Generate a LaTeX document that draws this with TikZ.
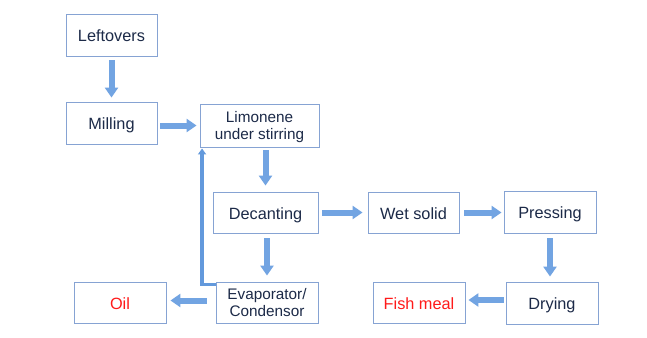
\documentclass[tikz,border=0pt]{standalone}
\usepackage{fontspec}
\setmainfont{Liberation Sans}
\usetikzlibrary{arrows.meta,calc}
\definecolor{boxline}{HTML}{86A3D3}
\definecolor{txt}{HTML}{1C2A48}
\definecolor{arr}{HTML}{72A4E2}
\definecolor{arrdark}{HTML}{6399DC}
\definecolor{redtxt}{HTML}{FF1A1A}
\tikzset{
  stepbox/.style={draw=boxline, line width=0.9pt, fill=white, inner sep=0pt, align=center,
    text=txt, font=\fontsize{16.3}{18}\selectfont, text height=13.7pt, text depth=0pt},
  twoline/.style={font=\fontsize{15.3}{17}\selectfont, text height=, text depth=0pt},
  blockarrow/.style={draw=arr, line width=6pt, -{Triangle[width=13pt,length=10pt]}},
  thinarrow/.style={draw=arrdark, line width=3.5pt, -{Triangle[width=8pt,length=6pt]}},
}
\begin{document}
\begin{tikzpicture}[x=1pt,y=-1pt]
\fill[white] (0,0) rectangle (647,337);
\useasboundingbox (0,0) rectangle (647,337);
% nodes
\node[stepbox, minimum width=91pt, minimum height=42pt] (left) at (111.5,35) {Leftovers};
\node[stepbox, minimum width=91pt, minimum height=42pt] (mill) at (111.5,123) {Milling};
\node[stepbox, twoline, minimum width=119pt, minimum height=43pt] (lim) at (259.5,125.5) {Limonene\\under stirring};
\node[stepbox, minimum width=105pt, minimum height=41pt] (dec) at (265.5,212.5) {Decanting};
\node[stepbox, twoline, minimum width=102pt, minimum height=41pt] (evap) at (267,302.5) {Evaporator/\\Condensor};
\node[stepbox, minimum width=92pt, minimum height=41pt, text=redtxt] (oil) at (120,302.5) {Oil};
\node[stepbox, minimum width=91pt, minimum height=41pt] (wet) at (413.5,212.5) {Wet solid};
\node[stepbox, minimum width=92pt, minimum height=42pt] (press) at (550,212) {Pressing};
\node[stepbox, minimum width=92pt, minimum height=42pt] (dry) at (552,303) {Drying};
\node[stepbox, minimum width=92pt, minimum height=41pt, text=redtxt] (fish) at (419,302.5) {Fish meal};
% connectors
\draw[blockarrow, shorten <=4pt, shorten >=4pt] (left.south -| mill.north) -- (mill.north);
\draw[blockarrow, shorten <=3pt, shorten >=3pt] (mill.east |- lim.west) -- (lim.west);
\draw[blockarrow, shorten <=3pt, shorten >=6pt] (lim.south -| dec.north) -- (dec.north);
\draw[blockarrow, shorten <=5pt, shorten >=6pt] (dec.south -| evap.north) -- (evap.north);
\draw[blockarrow, shorten <=4pt, shorten >=5pt] (dec.east) -- (wet.west);
\draw[blockarrow, shorten <=5pt, shorten >=2pt] (wet.east) -- (press.west |- wet.east);
\draw[blockarrow, shorten <=5pt, shorten >=5pt] (press.south) -- (press.south |- dry.north);
\coordinate (dryout) at ([yshift=3pt]dry.west);
\draw[blockarrow, shorten <=2pt, shorten >=3pt] (dryout) -- (dryout -| fish.east);
\coordinate (evout) at ([yshift=2pt]evap.west);
\draw[blockarrow, shorten <=9pt, shorten >=4pt] (evout) -- (evout -| oil.east);
\coordinate (retstart) at ([yshift=-3pt]evap.north west);
\coordinate (retend) at ([xshift=2.5pt]lim.south west);
\draw[thinarrow, shorten >=1pt] (retstart) -- (retstart -| retend) -- (retend);
\end{tikzpicture}
\end{document}
